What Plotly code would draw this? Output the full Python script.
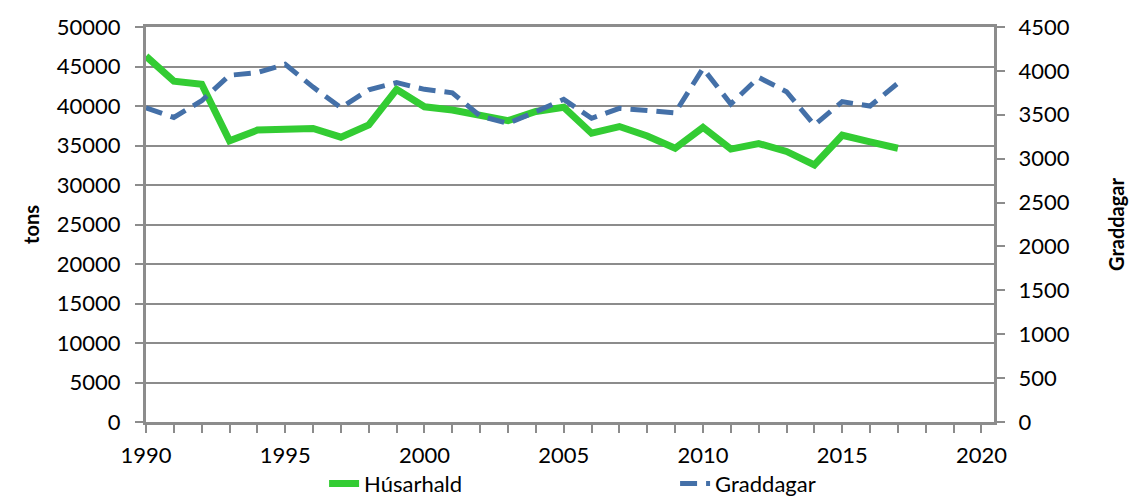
import plotly.graph_objects as go

years = list(range(1990, 2018))
husarhald = [46300, 43150, 42750, 35600, 36950, 36950, 37150, 36050, 37600, 42100,
             39900, 39500, 38750, 38150, 39300, 39850, 36550, 37400, 36200, 34650,
             37300, 34550, 35250, 34250, 32550, 36300, 35450, 34650]
graddagar = [3580, 3470, 3660, 3950, 3980, 4075, 3815, 3580, 3785, 3866,
             3790, 3750, 3486, 3402, 3535, 3676, 3460, 3573, 3550, 3522,
             4029, 3623, 3926, 3763, 3383, 3649, 3600, 3860]

FONT = "Lato"
GRID = "#8c8c8c"

fig = go.Figure()
fig.add_trace(go.Scatter(x=years, y=husarhald, name="Húsarhald", mode="lines",
                         line=dict(color="#33cc33", width=7)))
fig.add_trace(go.Scatter(x=years, y=graddagar, name="Graddagar", mode="lines", yaxis="y2",
                         line=dict(color="#4470a8", width=5, dash="17px,9px")))

fig.update_layout(
    width=1129, height=488,
    margin=dict(l=138, r=143, t=19, b=74, autoexpand=False),
    paper_bgcolor="white", plot_bgcolor="white",
    font=dict(family=FONT, size=22, color="black"),
    showlegend=True,
    legend=dict(orientation="h", x=0.21, xanchor="left", yref="container", y=0.025, yanchor="middle",
                entrywidth=306, entrywidthmode="pixels",
                font=dict(family=FONT, size=22), traceorder="normal"),
    xaxis=dict(range=[1990, 2020.45], tickvals=[1990, 1995, 2000, 2005, 2010, 2015, 2020],
               ticks="outside", ticklen=8, tickwidth=1.5, tickcolor=GRID, ticklabelstandoff=4,
               minor=dict(dtick=1, tick0=1990, ticks="outside", ticklen=8, tickcolor=GRID, tickwidth=1.5, showgrid=False),
               showline=True, linecolor=GRID, linewidth=3, mirror=True, automargin=False,
               showgrid=False, zeroline=False, tickfont=dict(size=22)),
    yaxis=dict(range=[0, 50000], dtick=5000, tickformat="d",
               ticks="outside", ticklen=8, tickwidth=1.5, tickcolor=GRID, ticklabelstandoff=10,
               showline=True, linecolor=GRID, linewidth=3, mirror=True, automargin=False,
               showgrid=True, gridcolor=GRID, gridwidth=2, zeroline=False,
               title=dict(text="<b>tons</b>", font=dict(size=20), standoff=12),
               tickfont=dict(size=22)),
    yaxis2=dict(range=[0, 4500], dtick=500, tickformat="d", overlaying="y", side="right",
                ticks="outside", ticklen=8, tickwidth=1.5, tickcolor=GRID, ticklabelstandoff=9,
                showline=True, linecolor=GRID, linewidth=3, automargin=False,
                showgrid=False, zeroline=False,
                title=dict(text="<b>Graddagar</b>", font=dict(size=20), standoff=42),
                tickfont=dict(size=22)),
)

fig.write_html("out.html")
